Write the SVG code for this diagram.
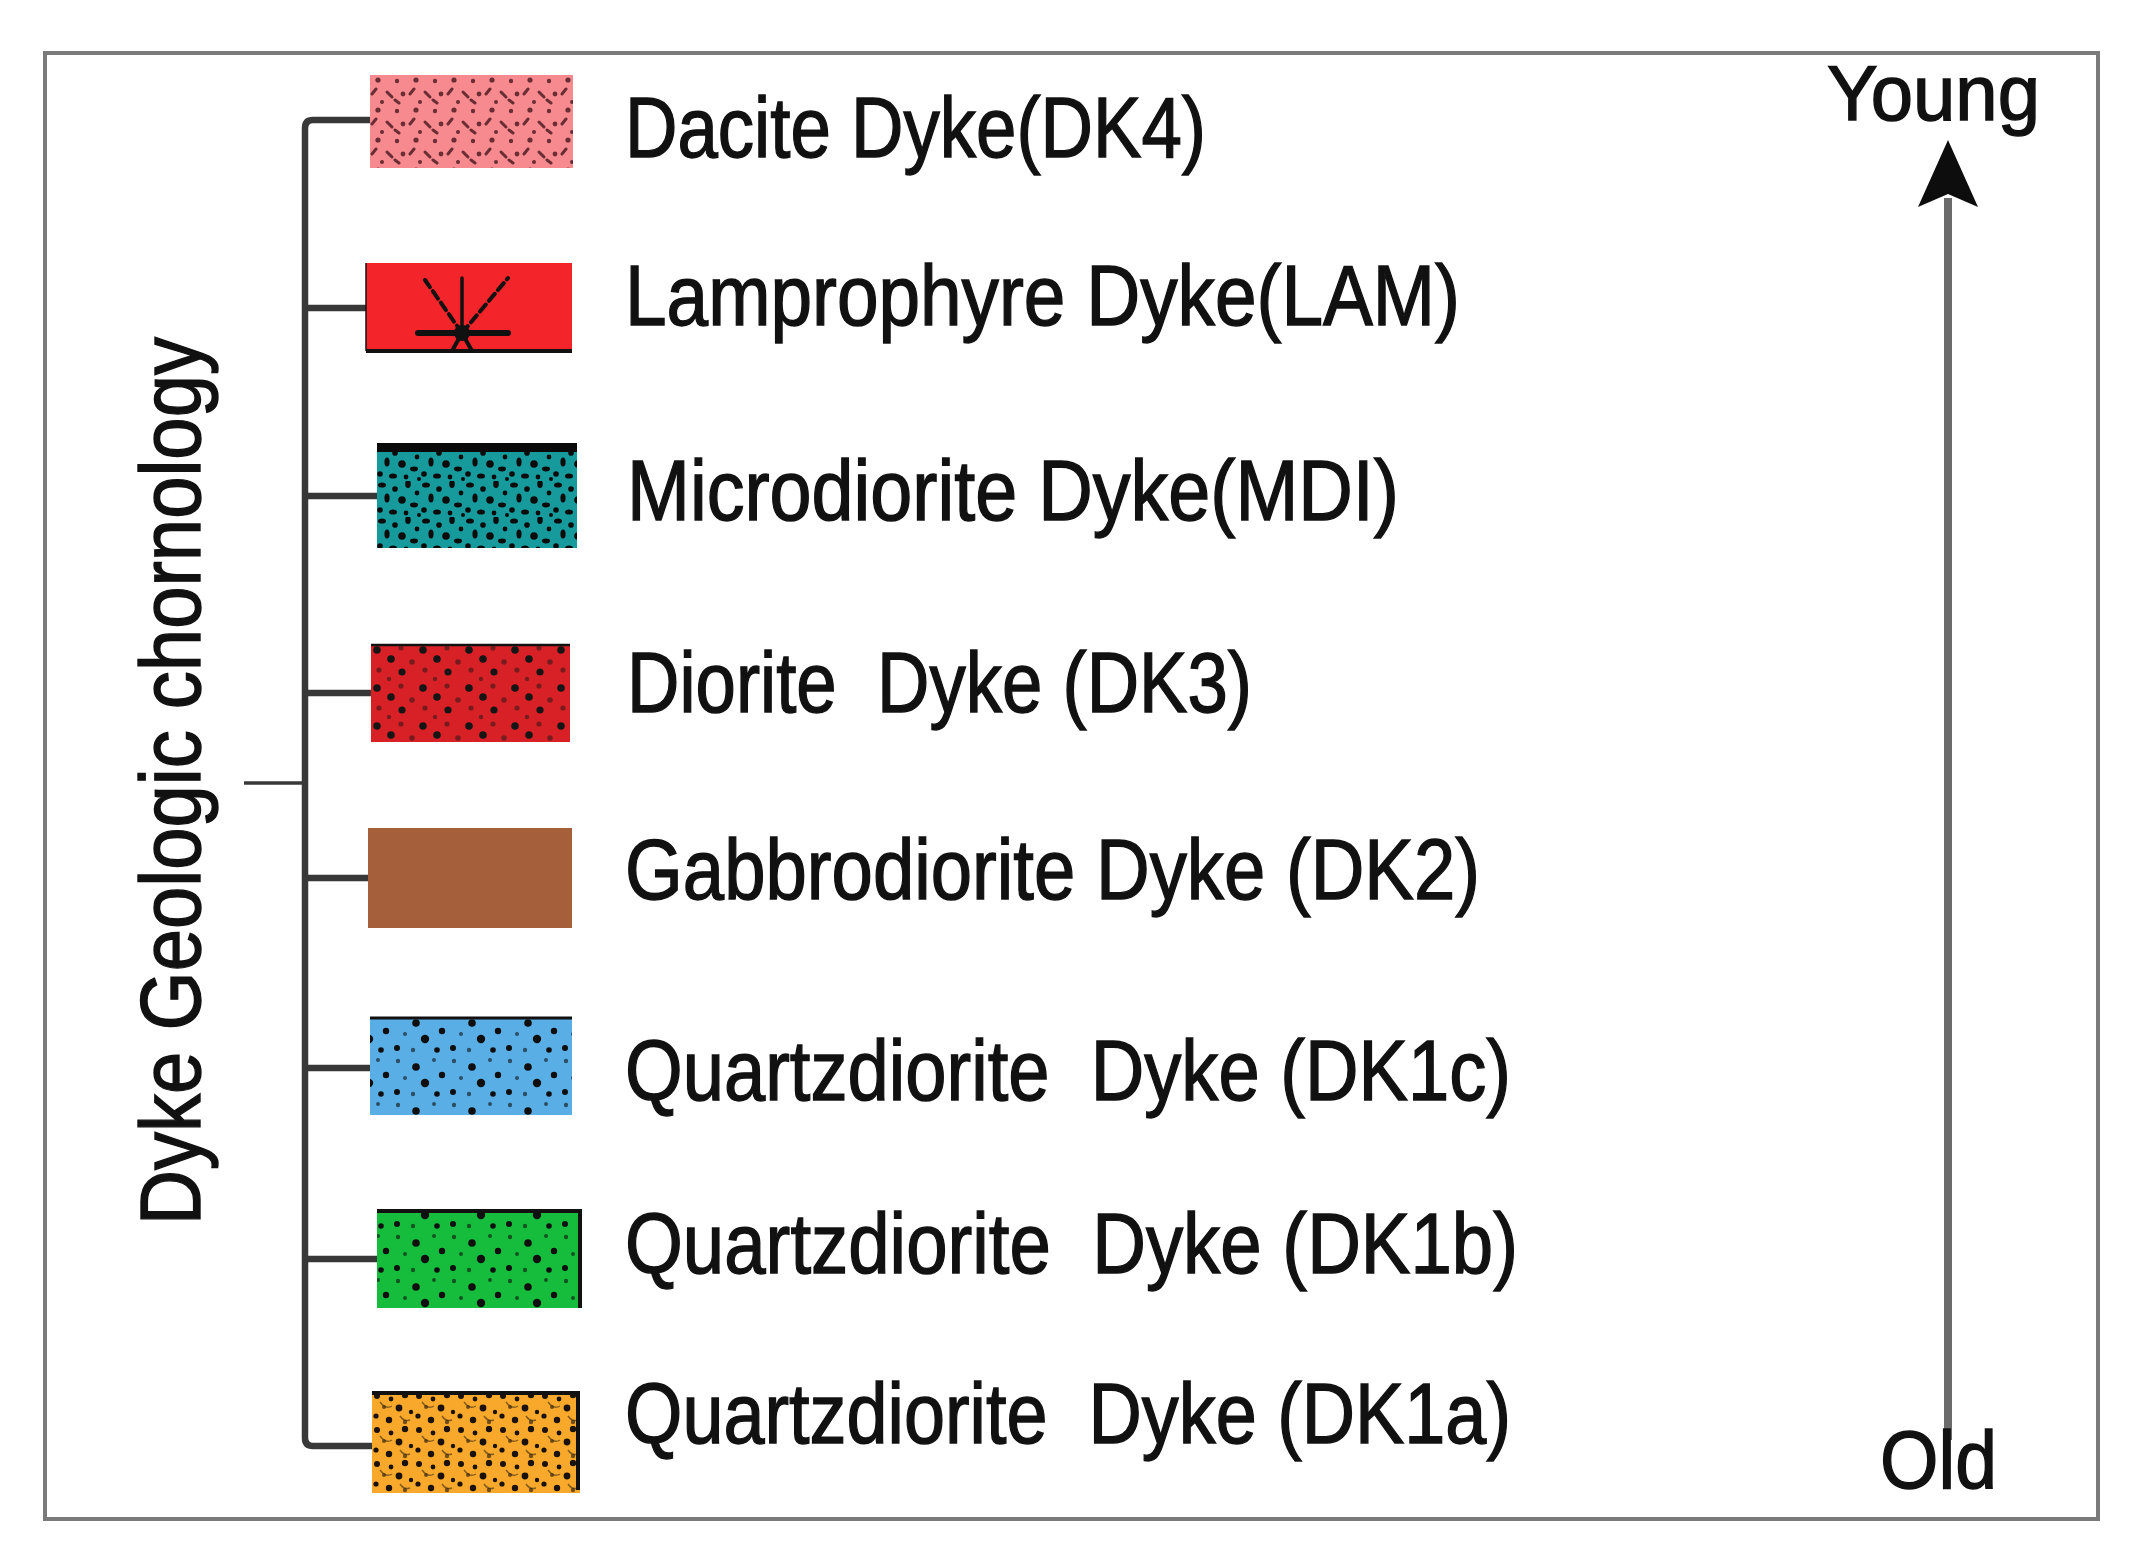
<svg xmlns="http://www.w3.org/2000/svg" width="2129" height="1560" viewBox="0 0 2129 1560">
<style>
.lbl{font-family:"Liberation Sans",Arial,sans-serif;font-size:85px;fill:#111;stroke:#111;stroke-width:1.4;white-space:pre}
.conn{fill:none;stroke:#383838;stroke-width:6.5;stroke-linejoin:round}
.edge{fill:none;stroke:#111}
</style>
<defs>
<pattern id="pPink" width="38" height="30" patternUnits="userSpaceOnUse" x="370" y="75">
 <g fill="#6a2d33" stroke="#6a2d33" stroke-width="3" stroke-linecap="round">
  <circle cx="8" cy="5" r="2.6" stroke="none"/><circle cx="27" cy="6" r="2.2" stroke="none"/>
  <path d="M2 19 l4 -5"/><path d="M17 17 l5 5"/><circle cx="33" cy="19" r="2.4" stroke="none"/>
  <circle cx="12" cy="27" r="2" stroke="none"/><path d="M25 25 l4 3"/>
 </g>
</pattern>
<pattern id="pDense" width="44" height="36" patternUnits="userSpaceOnUse" x="377" y="445">
 <g fill="#0b0b0b">
  <ellipse cx="5" cy="4" rx="4" ry="2.6"/><circle cx="18" cy="8" r="2.8"/><ellipse cx="31" cy="3" rx="2.8" ry="4"/><circle cx="40" cy="12" r="2.4"/>
  <ellipse cx="10" cy="17" rx="2.6" ry="4.5"/><circle cx="25" cy="19" r="3.8"/><ellipse cx="37" cy="24" rx="4" ry="2.4"/>
  <circle cx="3" cy="29" r="2.8"/><ellipse cx="16" cy="31" rx="4" ry="2.6"/><circle cx="29" cy="32" r="2.4"/><circle cx="42" cy="34" r="2"/>
 </g>
</pattern>
<pattern id="pSparse" width="46" height="38" patternUnits="userSpaceOnUse" x="371" y="644">
 <g fill="#151515">
  <circle cx="6" cy="6" r="3.8"/><circle cx="30" cy="4" r="2.6" opacity="0.5"/><circle cx="20" cy="15" r="3.8"/>
  <circle cx="41" cy="18" r="2.8" opacity="0.5"/><circle cx="8" cy="26" r="2.6" opacity="0.5"/><circle cx="31" cy="28" r="3.6"/>
  <circle cx="18" cy="35" r="2.2" opacity="0.5"/>
 </g>
</pattern>
<pattern id="pSpeck" width="56" height="44" patternUnits="userSpaceOnUse">
 <g fill="#0e0e0e">
  <circle cx="6" cy="5" r="2.2" opacity="0.6"/><circle cx="24" cy="11" r="3.8"/><circle cx="42" cy="4" r="2" opacity="0.6"/><circle cx="50" cy="19" r="3.2"/>
  <circle cx="13" cy="22" r="2" opacity="0.6"/><circle cx="33" cy="27" r="4.2"/><circle cx="5" cy="36" r="3"/><circle cx="21" cy="38" r="2.2" opacity="0.6"/>
  <circle cx="45" cy="38" r="2.8"/>
 </g>
</pattern>
<pattern id="pOrange" width="42" height="34" patternUnits="userSpaceOnUse" x="372" y="1392">
 <g fill="#1a1208">
  <circle cx="5" cy="4" r="3"/><circle cx="19" cy="7" r="2.4"/><circle cx="33" cy="3" r="3.2"/><circle cx="12" cy="15" r="2" opacity="0.6"/>
  <circle cx="27" cy="16" r="3.4"/><circle cx="39" cy="20" r="2.2"/><circle cx="4" cy="24" r="2.6"/><circle cx="17" cy="28" r="3.2"/>
  <circle cx="33" cy="30" r="2.2" opacity="0.6"/>
 </g>
 <path d="M8 10 q6 8 12 4 M28 24 q4 6 10 4" fill="none" stroke="#3a2a10" stroke-width="1.5" opacity="0.6"/>
</pattern>
</defs>

<rect id="frame" x="45" y="53" width="2053" height="1466" fill="#ffffff" stroke="#7a7a7a" stroke-width="4"/>

<g id="connectors">
 <path class="conn" d="M370 120 H313 Q305 120 305 128 V1438 Q305 1446 313 1446 H372"/>
 <path class="conn" d="M305 308 H366"/>
 <path class="conn" d="M305 496 H377"/>
 <path class="conn" d="M305 693 H371"/>
 <path class="conn" d="M305 878 H368"/>
 <path class="conn" d="M305 1068 H370"/>
 <path class="conn" d="M305 1259 H377"/>
 <path d="M244 783 H305" fill="none" stroke="#383838" stroke-width="3.5"/>
</g>

<g id="title">
 <text class="lbl" transform="translate(200 781) rotate(-90)" text-anchor="middle" textLength="888" lengthAdjust="spacingAndGlyphs">Dyke Geologic chornology</text>
</g>

<g id="node-dk4">
 <rect x="370" y="75" width="203" height="93" fill="#f68a8f"/>
 <rect x="370" y="75" width="203" height="93" fill="url(#pPink)"/>
 <text class="lbl" x="625" y="157" textLength="581" lengthAdjust="spacingAndGlyphs">Dacite Dyke(DK4)</text>
</g>

<g id="node-lam">
 <rect x="366" y="263" width="206" height="90" fill="#f3252b"/>
 <path class="edge" d="M366 351 H572" stroke-width="4"/>
 <path class="edge" d="M366 263 V351" stroke="#6aa" stroke-width="1.5"/>
 <g stroke="#111" stroke-linecap="round">
  <path d="M418 333 H508" stroke-width="6"/>
  <path d="M462 333 V278" stroke-width="3.5"/>
  <path d="M462 333 L425 280" stroke-width="4" stroke-dasharray="9 5"/>
  <path d="M462 333 L508 278" stroke-width="4" stroke-dasharray="9 5"/>
  <path d="M462 333 L452 351 M462 333 L472 351" stroke-width="4"/>
 </g>
 <circle cx="462" cy="333" r="8" fill="#111"/>
 <text class="lbl" x="625" y="325" textLength="835" lengthAdjust="spacingAndGlyphs">Lamprophyre Dyke(LAM)</text>
</g>

<g id="node-mdi">
 <rect x="377" y="445" width="200" height="103" fill="#179a9c"/>
 <rect x="377" y="445" width="200" height="103" fill="url(#pDense)"/>
 <rect x="377" y="443" width="200" height="9" fill="#0a0a0a"/>
 <text class="lbl" x="627" y="520" textLength="772" lengthAdjust="spacingAndGlyphs">Microdiorite Dyke(MDI)</text>
</g>

<g id="node-dk3">
 <rect x="371" y="644" width="199" height="98" fill="#d82126"/>
 <rect x="371" y="644" width="199" height="98" fill="url(#pSparse)"/>
 <path class="edge" d="M371 645 H570" stroke="#333" stroke-width="2.5"/>
 <text class="lbl" x="627" y="712" textLength="625" lengthAdjust="spacingAndGlyphs">Diorite  Dyke (DK3)</text>
</g>

<g id="node-dk2">
 <rect x="368" y="828" width="204" height="100" fill="#a5603b"/>
 <text class="lbl" x="625" y="899" textLength="855" lengthAdjust="spacingAndGlyphs">Gabbrodiorite Dyke (DK2)</text>
</g>

<g id="node-dk1c">
 <rect x="370" y="1017" width="202" height="98" fill="#5aaee6"/>
 <rect x="370" y="1017" width="202" height="98" fill="url(#pSpeck)"/>
 <path class="edge" d="M370 1018 H572" stroke="#222" stroke-width="3"/>
 <text class="lbl" x="625" y="1100" textLength="886" lengthAdjust="spacingAndGlyphs">Quartzdiorite  Dyke (DK1c)</text>
</g>

<g id="node-dk1b">
 <rect x="377" y="1210" width="205" height="98" fill="#16bd3d"/>
 <rect x="377" y="1210" width="205" height="98" fill="url(#pSpeck)"/>
 <path class="edge" d="M377 1211 H580 V1308" stroke-width="4"/>
 <text class="lbl" x="625" y="1273" textLength="893" lengthAdjust="spacingAndGlyphs">Quartzdiorite  Dyke (DK1b)</text>
</g>

<g id="node-dk1a">
 <rect x="372" y="1392" width="208" height="101" fill="#f8a92c"/>
 <rect x="372" y="1392" width="208" height="101" fill="url(#pOrange)"/>
 <path class="edge" d="M372 1393 H578 V1490" stroke-width="4"/>
 <text class="lbl" x="625" y="1443" textLength="886" lengthAdjust="spacingAndGlyphs">Quartzdiorite  Dyke (DK1a)</text>
</g>

<g id="age-arrow">
 <path d="M1948 1440 V198" fill="none" stroke="#6b6b6b" stroke-width="8"/>
 <path d="M1948 140 L1978 207 L1948 194 L1918 207 Z" fill="#0d0d0d"/>
 <text class="lbl" x="1827" y="120" style="font-size:77px" textLength="213" lengthAdjust="spacingAndGlyphs">Young</text>
 <text class="lbl" x="1880" y="1488" style="font-size:81px" textLength="117" lengthAdjust="spacingAndGlyphs">Old</text>
</g>
</svg>
